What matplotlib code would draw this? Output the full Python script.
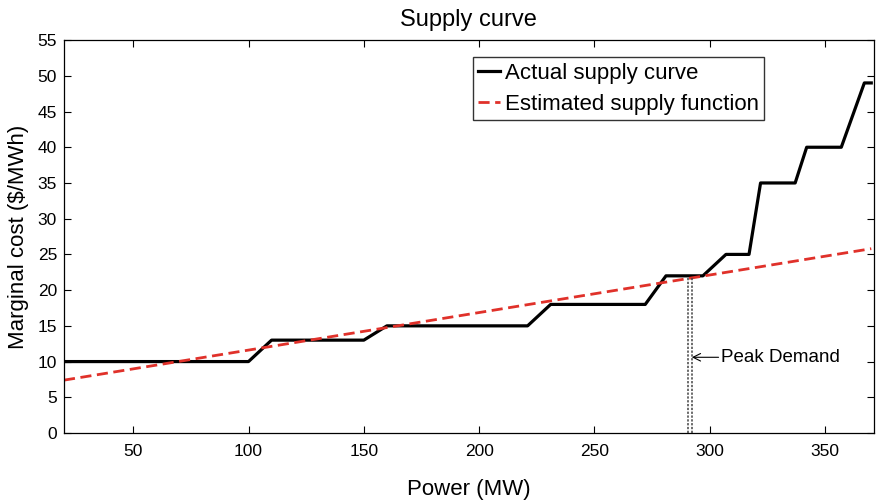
import numpy as np
import matplotlib.pyplot as plt

plt.rcParams['font.family'] = ['Liberation Sans', 'DejaVu Sans']

# actual step supply curve (MW, $/MWh)
power_actual = [20, 100, 110, 150, 160, 221, 231, 272, 281, 297, 307, 317, 322, 337, 342, 357, 367, 370]
cost_actual = [10, 10, 13, 13, 15, 15, 18, 18, 22, 22, 25, 25, 35, 35, 40, 40, 49, 49]

# estimated linear supply function
power_est = [20, 370]
cost_est = [7.4, 25.8]

peak_demand = [290.4, 292.2]
peak_cost = 21.7

fig = plt.figure(figsize=(8.8, 5.01), dpi=100)
ax = fig.add_axes([0.0727, 0.1357, 0.92, 0.7843])

ax.plot(power_actual, cost_actual, color='black', lw=2.3, label='Actual supply curve')
ax.plot(power_est, cost_est, color='#e0312a', lw=2, ls=(0, (4, 2)), label='Estimated supply function')

for p in peak_demand:
    ax.plot([p, p], [0, peak_cost], color='#444444', lw=1.1, ls=(0, (1.5, 1)))

ax.annotate('Peak Demand', xy=(peak_demand[1], 10.6), xytext=(305, 10.6),
            fontsize=13.5, va='center',
            arrowprops=dict(arrowstyle='->', color='black', lw=0.8, shrinkA=0, shrinkB=0))

ax.set_xlim(20, 371)
ax.set_ylim(0, 55)
ax.set_xticks(np.arange(50, 351, 50))
ax.set_yticks(np.arange(0, 56, 5))
ax.tick_params(direction='in', top=True, right=True, labelsize=12.5, length=5)
ax.tick_params(axis='x', pad=8)
ax.tick_params(axis='y', pad=5)
for s in ax.spines.values():
    s.set_linewidth(0.9)

ax.set_title('Supply curve', fontsize=17, pad=10)
ax.set_xlabel('Power (MW)', fontsize=16, labelpad=14)
ax.set_ylabel('Marginal cost ($/MWh)', fontsize=16, labelpad=6)

ax.legend(loc='upper right', bbox_to_anchor=(0.865, 0.957), fontsize=16,
          frameon=True, fancybox=False, edgecolor='black', handlelength=1.0,
          handletextpad=0.2, borderpad=0.25, labelspacing=0.45, borderaxespad=0)

fig.savefig('out.png', dpi=100)
